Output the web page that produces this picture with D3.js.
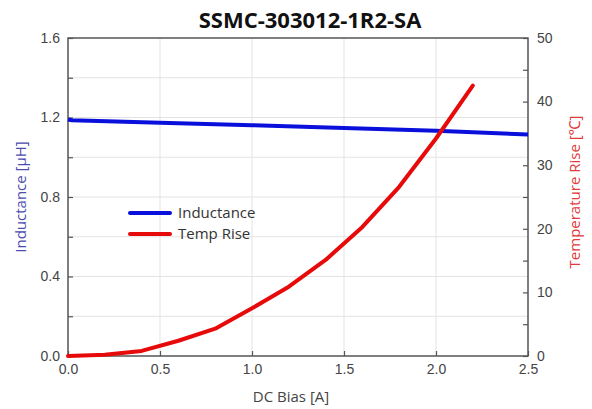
<!DOCTYPE html>
<html>
<head>
<meta charset="utf-8">
<script src="https://cdn.jsdelivr.net/npm/d3@7"></script>
<style>
body{margin:0;background:#fff;}
svg{display:block;}
</style>
</head>
<body>
<svg id="chart" width="592" height="409"></svg>
<script>
const title = "SSMC-303012-1R2-SA";
const indX = [0, 0.02, 0.5, 1.0, 1.5, 2.0, 2.5];
const indY = [1.19, 1.186, 1.174, 1.161, 1.147, 1.133, 1.114];
const tempX = [0, 0.2, 0.4, 0.6, 0.8, 1.0, 1.2, 1.4, 1.6, 1.8, 2.0, 2.2];
const tempY = [0, 0.2, 0.8, 2.4, 4.3, 7.5, 10.9, 15.1, 20.3, 26.6, 34.2, 42.5];
const xTicks = [0, 0.5, 1.0, 1.5, 2.0, 2.5];
const yLeftTicks = [0, 0.4, 0.8, 1.2, 1.6];
const yLeftMinor = [0, 0.2, 0.4, 0.6, 0.8, 1.0, 1.2, 1.4, 1.6];
const yRightTicks = [0, 10, 20, 30, 40, 50];
const yRightMinor = [0, 5, 10, 15, 20, 25, 30, 35, 40, 45, 50];
const seriesNames = ["Inductance", "Temp Rise"];

const svg = d3.select("#chart");
const L = 68, R = 528, T = 38, B = 356;
const x = d3.scaleLinear().domain([0, 2.5]).range([L, R]);
const yL = d3.scaleLinear().domain([0, 1.6]).range([B, T]);
const yR = d3.scaleLinear().domain([0, 50]).range([B, T]);
const blue = "#0a10dc", red = "#e60a0a";
const font = "'Liberation Sans', Arial, sans-serif";
const sans = "'Open Sans', 'Noto Sans', sans-serif";

// grid
svg.append("g").selectAll("line").data(xTicks.slice(1, -1)).join("line")
  .attr("x1", d => x(d)).attr("x2", d => x(d)).attr("y1", T).attr("y2", B)
  .attr("stroke", "#e3e3e3").attr("stroke-width", 1);
svg.append("g").selectAll("line").data(yLeftMinor.slice(1, -1)).join("line")
  .attr("x1", L).attr("x2", R).attr("y1", d => yL(d)).attr("y2", d => yL(d))
  .attr("stroke", "#e3e3e3").attr("stroke-width", 1);

// axes (inward ticks)
const axisColor = "#555";
const gB = svg.append("g").attr("transform", `translate(0,${B})`)
  .call(d3.axisTop(x).tickValues(xTicks).tickSize(5).tickFormat(""));
const gBl = svg.append("g").attr("transform", `translate(0,${B})`)
  .call(d3.axisBottom(x).tickValues(xTicks).tickSize(0).tickPadding(8).tickFormat(d3.format(".1f")));
const gL = svg.append("g").attr("transform", `translate(${L},0)`)
  .call(d3.axisRight(yL).tickValues(yLeftMinor).tickSize(5).tickFormat(""));
const gLl = svg.append("g").attr("transform", `translate(${L},0)`)
  .call(d3.axisLeft(yL).tickValues(yLeftTicks).tickSize(0).tickPadding(8).tickFormat(d3.format(".1f")));
const gR = svg.append("g").attr("transform", `translate(${R},0)`)
  .call(d3.axisLeft(yR).tickValues(yRightMinor).tickSize(5).tickFormat(""));
const gRl = svg.append("g").attr("transform", `translate(${R},0)`)
  .call(d3.axisRight(yR).tickValues(yRightTicks).tickSize(0).tickPadding(9).tickFormat(d3.format("d")));
[gB, gBl, gL, gLl, gR, gRl].forEach(g => {
  g.select(".domain").remove();
  g.selectAll(".tick line").attr("stroke", axisColor).attr("stroke-width", 1.2);
  g.selectAll(".tick text").attr("fill", "#444").style("font-family", font).style("font-size", "14px");
});
gLl.selectAll(".tick text").attr("dy", "0.3em");
gRl.selectAll(".tick text").attr("dy", "0.3em");

// frame
svg.append("rect").attr("x", L).attr("y", T).attr("width", R - L).attr("height", B - T)
  .attr("fill", "none").attr("stroke", axisColor).attr("stroke-width", 1.5);

// lines
const lineInd = d3.line().x(d => x(d[0])).y(d => yL(d[1]));
const lineTemp = d3.line().x(d => x(d[0])).y(d => yR(d[1]));
svg.append("path").datum(indX.map((v, i) => [v, indY[i]]))
  .attr("d", lineInd).attr("fill", "none").attr("stroke", blue).attr("stroke-width", 4);
svg.append("path").datum(tempX.map((v, i) => [v, tempY[i]]))
  .attr("d", lineTemp).attr("fill", "none").attr("stroke", red).attr("stroke-width", 4)
  .attr("stroke-linecap", "round").attr("stroke-linejoin", "round");

// legend
const leg = svg.append("g");
[[blue, 213], [red, 234]].forEach((c, i) => {
  leg.append("line").attr("x1", 130).attr("x2", 170).attr("y1", c[1]).attr("y2", c[1])
    .attr("stroke", c[0]).attr("stroke-width", 4).attr("stroke-linecap", "round");
  leg.append("text").attr("x", 178).attr("y", c[1]).attr("dy", "0.35em")
    .style("font-family", sans).style("font-size", "15px")
    .attr("fill", "#333").text(seriesNames[i]);
});

// titles
svg.append("text").attr("x", 310).attr("y", 20).attr("dy", "0.35em").attr("text-anchor", "middle")
  .style("font-family", sans).style("font-weight", "bold")
  .style("font-size", "22px").attr("fill", "#111").text(title);
svg.append("text").attr("x", 291).attr("y", 397).attr("dy", "0.35em").attr("text-anchor", "middle")
  .style("font-family", sans).style("font-size", "15px")
  .attr("fill", "#444").text("DC Bias [A]");
svg.append("text").attr("transform", `translate(21,197) rotate(-90)`).attr("dy", "0.35em")
  .attr("text-anchor", "middle")
  .style("font-family", sans).style("font-size", "15px")
  .attr("fill", "#4b4bb0").text("Inductance [μH]");
svg.append("text").attr("transform", `translate(575,192) rotate(-90)`).attr("dy", "0.35em")
  .attr("text-anchor", "middle")
  .style("font-family", sans).style("font-size", "15px")
  .attr("fill", "#e03a3a").text("Temperature Rise [℃]");
</script>
</body>
</html>
